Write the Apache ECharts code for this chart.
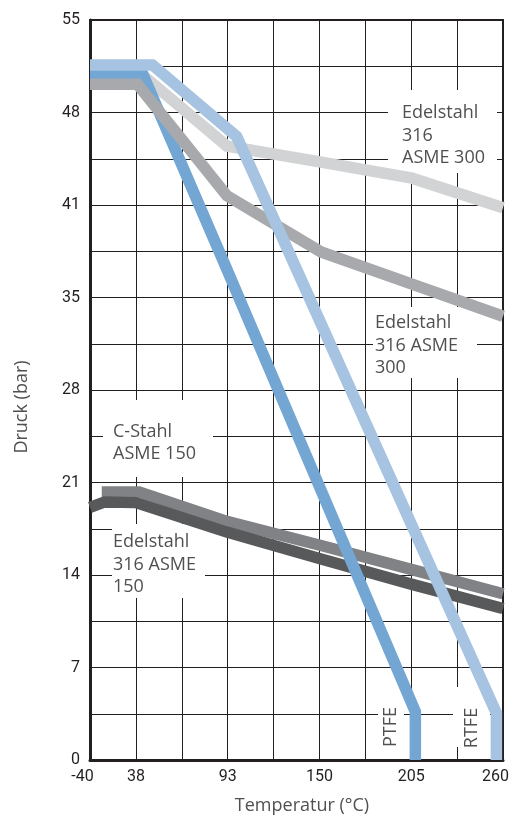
<!DOCTYPE html>
<html>
<head>
<meta charset="utf-8">
<script src="https://cdn.jsdelivr.net/npm/echarts@6/dist/echarts.min.js"></script>
<style>html,body{margin:0;padding:0;background:#fff}#c{width:515px;height:825px}</style>
</head>
<body>
<div id="c"></div>
<script>
// ---- axis tick labels ----
const xTickLabels = ['-40', '38', '', '93', '', '150', '', '205', '', '260']; // one per grid step
const yTickLabels = ['0', '7', '14', '21', '28', '35', '41', '48', '55'];   // every second grid line
// x axis is drawn in grid steps: -40 °C -> step 0, 38 °C -> step 1, 260 °C -> step 9
const xBreakTemps = [-40, 38, 260];
const xBreakSteps = [0, 1, 9];

// ---- series (temperature °C, pressure bar) ----
const rtfeT = [-40, 48, 99, 256, 256];
const rtfeP = [51.85, 51.85, 46.5, 3.5, 0];

const ptfeT = [-40, 42, 93, 207, 207];
const ptfeP = [51.2, 51.2, 36.6, 3.6, 0];

const ss300aT = [-40, 42, 93, 150, 205, 260];          // Edelstahl 316 ASME 300 (top label)
const ss300aP = [51.1, 51.1, 45.8, 44.6, 43.4, 41.2];

const ss300bT = [-40, 39, 93, 150, 205, 260];          // Edelstahl 316 ASME 300 (middle label)
const ss300bP = [50.4, 50.4, 42.1, 37.9, 35.5, 33.1];

const cs150T = [-20, 40, 93, 150, 205, 260];           // C-Stahl ASME 150
const cs150P = [20.0, 20.0, 17.8, 16.0, 14.2, 12.4];

const ss150T = [-40, -15, 38, 93, 150, 205, 260];      // Edelstahl 316 ASME 150
const ss150P = [18.85, 19.25, 19.2, 17.0, 15.0, 13.1, 11.3];

function toStep(t) {
  for (let i = 0; i < xBreakTemps.length - 1; i++) {
    const a = xBreakTemps[i], b = xBreakTemps[i + 1];
    if (t <= b || i === xBreakTemps.length - 2) {
      return xBreakSteps[i] + (t - a) / (b - a) * (xBreakSteps[i + 1] - xBreakSteps[i]);
    }
  }
}
function pts(T, P) { return T.map((t, i) => [toStep(t), P[i]]); }

const FONT = 'Roboto, "DejaVu Sans", sans-serif';
const LFONT = '"Open Sans", Roboto, sans-serif';
const INK = '#231f20';
const LABEL = '#505052';

function lineSeries(name, T, P, color) {
  return {
    name, type: 'line', data: pts(T, P), symbol: 'none', smooth: false,
    lineStyle: { color, width: 11.5, cap: 'butt', join: 'miter' },
    emphasis: { disabled: true }, silent: true
  };
}

const chart = echarts.init(document.getElementById('c'), null, { renderer: 'canvas' });
chart.setOption({
  animation: false,
  backgroundColor: '#fff',
  grid: { left: 90, right: 12, top: 20, bottom: 65, show: true, borderColor: INK, borderWidth: 2, backgroundColor: 'transparent' },
  xAxis: {
    type: 'value', min: 0, max: 9, interval: 1,
    axisLine: { show: true, onZero: false, lineStyle: { color: INK, width: 3 } },
    axisTick: { show: false },
    splitLine: { show: true, lineStyle: { color: INK, width: 1 } },
    axisLabel: {
      margin: 9, fontSize: 16, fontFamily: FONT, color: INK,
      formatter: function (v) {
        const i = Math.round(v);
        const s = xTickLabels[i] || '';
        if (i === 0 || i === 9) return '{e|' + s + '}';
        return s;
      },
      rich: { e: { fontSize: 16, fontFamily: FONT, color: INK, padding: [0, 15, 0, 0] } }
    }
  },
  yAxis: {
    type: 'value', min: 0, max: 55.2, interval: 3.45,
    axisLine: { show: true, lineStyle: { color: INK, width: 3 } },
    axisTick: { show: false },
    splitLine: { show: true, lineStyle: { color: INK, width: 1 } },
    axisLabel: {
      margin: 10, fontSize: 16, fontFamily: FONT, color: INK,
      formatter: function (v) {
        const k = Math.round(v / 3.45);
        return k % 2 === 0 ? (yTickLabels[k / 2] || '') : '';
      }
    }
  },
  graphic: [
    // white label boxes (above grid, below lines)
    { type: 'rect', z: 1, shape: { x: 388, y: 90, width: 109, height: 83 }, style: { fill: '#fff' } },
    { type: 'rect', z: 1, shape: { x: 373, y: 307, width: 104, height: 71 }, style: { fill: '#fff' } },
    { type: 'rect', z: 1, shape: { x: 103, y: 400, width: 110, height: 77 }, style: { fill: '#fff' } },
    { type: 'rect', z: 1, shape: { x: 112, y: 524, width: 93, height: 74 }, style: { fill: '#fff' } },
    { type: 'rect', z: 1, shape: { x: 378, y: 700, width: 26, height: 56 }, style: { fill: '#fff' } },
    { type: 'rect', z: 1, shape: { x: 453, y: 687, width: 37, height: 60 }, style: { fill: '#fff' } },
    // labels
    { type: 'text', z: 3, x: 402, y: 102, style: { text: 'Edelstahl\n316\nASME 300', fill: LABEL, font: '18px ' + LFONT, lineHeight: 22.5, align: 'left', verticalAlign: 'top' } },
    { type: 'text', z: 3, x: 375, y: 312, style: { text: 'Edelstahl\n316 ASME\n300', fill: LABEL, font: '18px ' + LFONT, lineHeight: 22.5, align: 'left', verticalAlign: 'top' } },
    { type: 'text', z: 3, x: 113, y: 421, style: { text: 'C-Stahl\nASME 150', fill: LABEL, font: '18px ' + LFONT, lineHeight: 22, align: 'left', verticalAlign: 'top' } },
    { type: 'text', z: 3, x: 113, y: 531, style: { text: 'Edelstahl\n316 ASME\n150', fill: LABEL, font: '18px ' + LFONT, lineHeight: 22.5, align: 'left', verticalAlign: 'top' } },
    { type: 'text', z: 3, x: 391, y: 727, rotation: Math.PI / 2, style: { text: 'PTFE', fill: LABEL, font: '18px ' + LFONT, align: 'center', verticalAlign: 'middle' } },
    { type: 'text', z: 3, x: 472, y: 728, rotation: Math.PI / 2, style: { text: 'RTFE', fill: LABEL, font: '18px ' + LFONT, align: 'center', verticalAlign: 'middle' } },
    // axis titles
    { type: 'text', z: 3, x: 22, y: 407, rotation: Math.PI / 2, style: { text: 'Druck (bar)', fill: LABEL, font: '18px ' + LFONT, align: 'center', verticalAlign: 'middle' } },
    { type: 'text', z: 3, x: 302, y: 806, style: { text: 'Temperatur (°C)', fill: LABEL, font: '18px ' + LFONT, align: 'center', verticalAlign: 'middle' } }
  ],
  series: [
    lineSeries('Edelstahl 316 ASME 300 (a)', ss300aT, ss300aP, '#d1d3d4'),
    lineSeries('C-Stahl ASME 150', cs150T, cs150P, '#808285'),
    lineSeries('Edelstahl 316 ASME 150', ss150T, ss150P, '#58595b'),
    lineSeries('PTFE', ptfeT, ptfeP, '#74a6d3'),
    lineSeries('Edelstahl 316 ASME 300 (b)', ss300bT, ss300bP, '#a7a9ac'),
    lineSeries('RTFE', rtfeT, rtfeP, '#a6c3e2')
  ]
});
</script>
</body>
</html>
